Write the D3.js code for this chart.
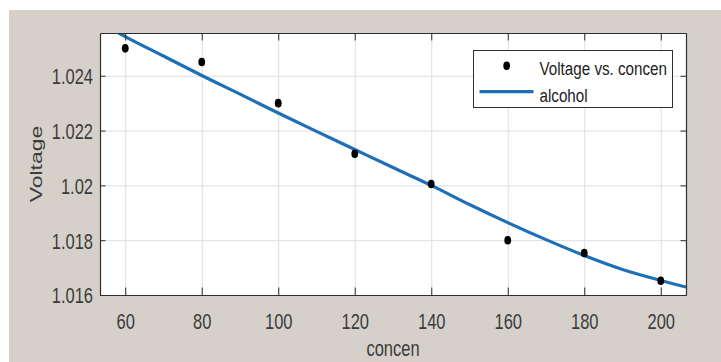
<!DOCTYPE html>
<html>
<head>
<meta charset="utf-8">
<script src="https://cdn.jsdelivr.net/npm/d3@7"></script>
<style>
  html, body { margin: 0; padding: 0; background: #ffffff; }
  svg { display: block; }
  text { font-family: "Liberation Sans", Arial, Helvetica, sans-serif; }
</style>
</head>
<body>
<svg id="chart" width="721" height="362"></svg>
<script>
// ---- data ----
const concen = [60, 80, 100, 120, 140, 160, 180, 200];
const voltage = [1.0250, 1.0245, 1.0230, 1.02115, 1.02005, 1.0180, 1.01753, 1.01652];

const fitConcen = [58.3, 60, 70, 80, 90, 100, 110, 120, 130, 140, 150, 160, 170, 180, 190, 200, 206.6];
const fitVoltage = [1.02556, 1.02543, 1.02472, 1.02401, 1.02333, 1.02264, 1.02197, 1.02131,
                    1.02065, 1.02000, 1.01930, 1.01864, 1.01802, 1.01744, 1.01693, 1.01653, 1.01629];

const xTicks = [60, 80, 100, 120, 140, 160, 180, 200];
const yTicks = [1.016, 1.018, 1.020, 1.022, 1.024];
const xDomain = [53.4, 206.6];
const yDomain = [1.016, 1.02556];
const xLabel = "concen";
const yLabel = "Voltage";
const legendLabels = ["Voltage vs. concen", "alcohol"];

// ---- layout ----
const svg = d3.select("#chart");
const L = 100, R = 686, T = 33, B = 295;
const SX = 0.75; // horizontal condensation of text seen in reference
const textColor = "#3c3c3c";
const axisColor = "#2e2e2e";
const gridColor = "#dedede";
const blue = "#1f6fb6";

svg.append("rect").attr("x", 9).attr("y", 10).attr("width", 712).attr("height", 352)
   .attr("fill", "#d5d1ca");

const x = d3.scaleLinear().domain(xDomain).range([L, R]);
const y = d3.scaleLinear().domain(yDomain).range([B, T]);

svg.append("rect").attr("x", L).attr("y", T).attr("width", R - L).attr("height", B - T)
   .attr("fill", "#ffffff");

// grid
svg.append("g").attr("transform", `translate(0,${B})`)
   .call(d3.axisBottom(x).tickValues(xTicks).tickSize(-(B - T)).tickFormat(""))
   .call(g => g.select(".domain").remove())
   .call(g => g.selectAll("line").attr("stroke", gridColor).attr("stroke-width", 1));
svg.append("g").attr("transform", `translate(${L},0)`)
   .call(d3.axisLeft(y).tickValues(yTicks).tickSize(-(R - L)).tickFormat(""))
   .call(g => g.select(".domain").remove())
   .call(g => g.selectAll("line").attr("stroke", gridColor).attr("stroke-width", 1));

// clip
svg.append("defs").append("clipPath").attr("id", "clip")
   .append("rect").attr("x", L).attr("y", T).attr("width", R - L).attr("height", B - T);

// fit line
const line = d3.line().x((d, i) => x(fitConcen[i])).y(d => y(d)).curve(d3.curveMonotoneX);
svg.append("path").datum(fitVoltage).attr("clip-path", "url(#clip)")
   .attr("d", line).attr("fill", "none").attr("stroke", blue).attr("stroke-width", 3.2);

// points
svg.append("g").selectAll("ellipse").data(voltage).join("ellipse")
   .attr("cx", (d, i) => x(concen[i])).attr("cy", d => y(d))
   .attr("rx", 3.4).attr("ry", 4.3).attr("fill", "#000");

// axes
const fmt = d3.format(".3~f");
const xAxis = svg.append("g").attr("transform", `translate(0,${B})`)
   .call(d3.axisBottom(x).tickValues(xTicks).tickSizeInner(-7.5).tickSizeOuter(0).tickPadding(18).tickFormat(d3.format("d")));
xAxis.selectAll("text").attr("font-size", 22).attr("fill", textColor)
   .attr("font-family", "Liberation Sans, Arial, sans-serif")
   .attr("transform", `scale(${SX},1)`);
const yAxis = svg.append("g").attr("transform", `translate(${L},0)`)
   .call(d3.axisLeft(y).tickValues(yTicks).tickSizeInner(-5.5).tickSizeOuter(0).tickPadding(7 / SX).tickFormat(fmt));
yAxis.selectAll("text").attr("font-size", 22).attr("fill", textColor)
   .attr("font-family", "Liberation Sans, Arial, sans-serif")
   .attr("dy", "0.36em")
   .attr("transform", `scale(${SX},1)`);
const topAxis = svg.append("g").attr("transform", `translate(0,${T})`)
   .call(d3.axisTop(x).tickValues(xTicks).tickSizeInner(-7.5).tickSizeOuter(0).tickFormat(""));
const rightAxis = svg.append("g").attr("transform", `translate(${R},0)`)
   .call(d3.axisRight(y).tickValues(yTicks).tickSizeInner(-5.5).tickSizeOuter(0).tickFormat(""));
[xAxis, yAxis, topAxis, rightAxis].forEach(g => {
  g.select(".domain").attr("stroke", axisColor).attr("stroke-width", 1.2);
  g.selectAll(".tick line").attr("stroke", axisColor).attr("stroke-width", 1);
});

// axis titles
svg.append("text").attr("transform", `translate(${(L + R) / 2},356) scale(${SX},1)`)
   .attr("text-anchor", "middle").attr("font-size", 22).attr("fill", textColor).text(xLabel);
svg.append("text").attr("transform", `translate(42,${(T + B) / 2}) scale(${SX},1) rotate(-90)`)
   .attr("text-anchor", "middle").attr("font-size", 23).attr("fill", textColor).text(yLabel);

// legend
const lg = svg.append("g");
lg.append("rect").attr("x", 473.5).attr("y", 50.5).attr("width", 199).attr("height", 57)
  .attr("fill", "#fff").attr("stroke", axisColor).attr("stroke-width", 1);
lg.append("ellipse").attr("cx", 506.7).attr("cy", 65.7).attr("rx", 3.4).attr("ry", 4.3).attr("fill", "#000");
lg.append("line").attr("x1", 479.5).attr("x2", 533.5).attr("y1", 91.7).attr("y2", 91.7)
  .attr("stroke", blue).attr("stroke-width", 3.2);
lg.append("text").attr("transform", `translate(539.5,75) scale(0.8,1)`)
  .attr("font-size", 19).attr("fill", "#222").text(legendLabels[0]);
lg.append("text").attr("transform", `translate(539.5,101.5) scale(0.8,1)`)
  .attr("font-size", 19).attr("fill", "#222").text(legendLabels[1]);
</script>
</body>
</html>
